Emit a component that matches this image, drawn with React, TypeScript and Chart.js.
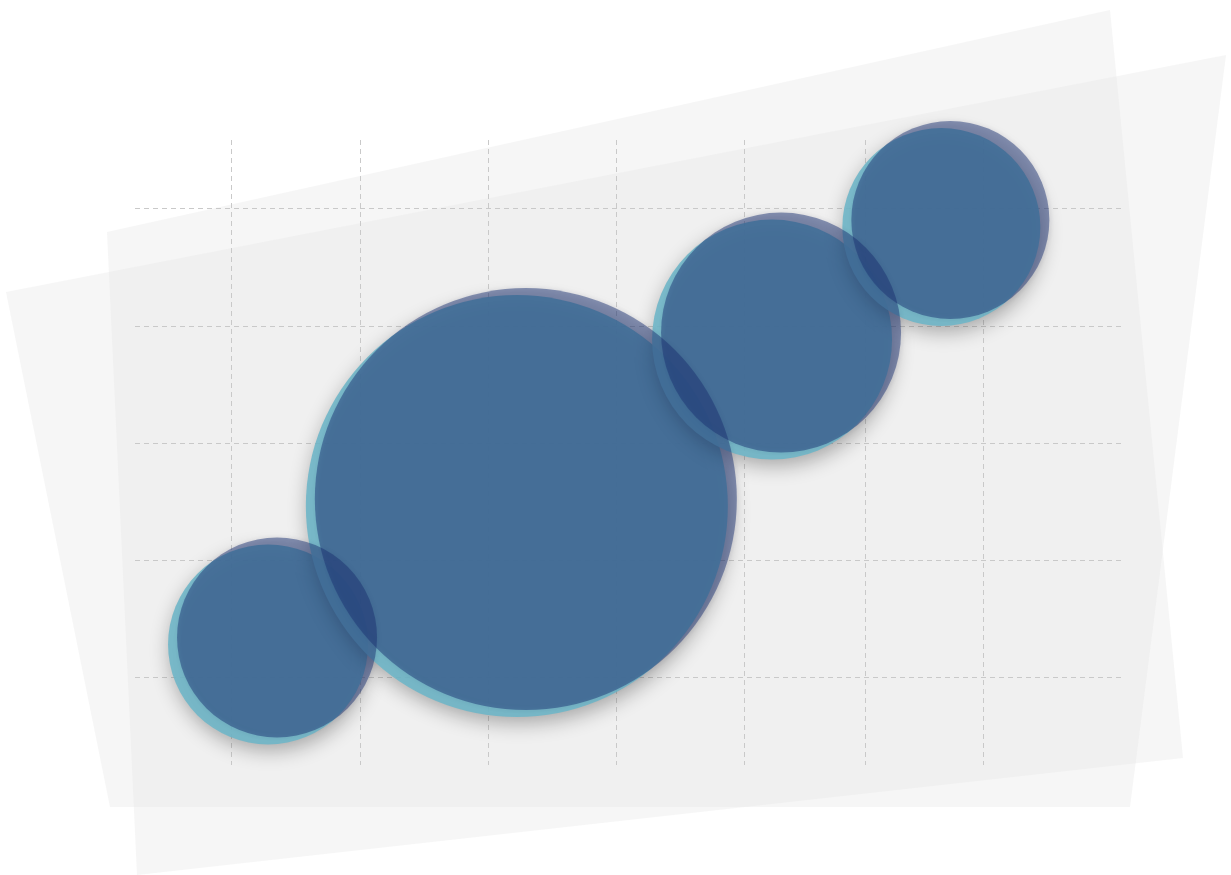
import React, { useEffect, useRef } from "react";
import { Chart, registerables } from "chart.js";

Chart.register(...registerables);

// Data
const bubbleX = [1.32, 3.26, 5.25, 6.57];
const bubbleY = [1.32, 2.5, 3.92, 4.88];
const bubbleR = [100, 211, 120, 99];
const gridXTicks = [1, 2, 3, 4, 5, 5.94, 6.86];
const gridYTicks = [1, 2, 3, 4, 5];

const W = 1231;
const H = 875;

const sheetsPlugin = {
  id: "sheets",
  beforeDraw(chart: any) {
    const ctx = chart.ctx;
    const quads = [
      [[107, 232], [1110, 10], [1183, 758], [137, 875]],
      [[6, 292], [1226, 55], [1130, 807], [110, 807]],
    ];
    ctx.save();
    ctx.fillStyle = "#ffffff";
    ctx.fillRect(0, 0, W, H);
    for (const q of quads) {
      ctx.beginPath();
      ctx.moveTo(q[0][0], q[0][1]);
      for (let i = 1; i < q.length; i++) ctx.lineTo(q[i][0], q[i][1]);
      ctx.closePath();
      ctx.fillStyle = "rgba(228,228,228,0.34)";
      ctx.fill();
    }
    ctx.restore();
  },
};

const layerPlugin = {
  id: "layers",
  beforeDatasetDraw(chart: any, args: any) {
    const ctx = chart.ctx;
    ctx.save();
    if (args.index === 1) {
      ctx.translate(-5, 4);
      ctx.shadowColor = "rgba(0,0,0,0.35)";
      ctx.shadowBlur = 20;
      ctx.shadowOffsetX = 2;
      ctx.shadowOffsetY = 6;
    } else {
      ctx.translate(4, -3);
      ctx.shadowColor = "rgba(30,30,80,0.18)";
      ctx.shadowBlur = 4;
      ctx.shadowOffsetX = 1;
      ctx.shadowOffsetY = 0;
    }
  },
  afterDatasetDraw(chart: any) {
    chart.ctx.restore();
  },
};

export default function App() {
  const ref = useRef<HTMLCanvasElement | null>(null);
  useEffect(() => {
    if (!ref.current) return;
    const pts = bubbleX.map((x, i) => ({ x, y: bubbleY[i], r: bubbleR[i] }));
    const chart = new Chart(ref.current, {
      type: "bubble",
      data: {
        datasets: [
          {
            label: "top",
            data: pts,
            backgroundColor: "rgba(26,48,112,0.48)",
            borderWidth: 0,
            clip: false,
          },
          {
            label: "base",
            data: pts,
            backgroundColor: "rgba(111,182,200,0.9)",
            borderWidth: 0,
            clip: false,
          },
        ],
      },
      options: {
        responsive: false,
        animation: false,
        events: [],
        layout: { autoPadding: false, padding: { left: 135, right: W - 1125, top: 140, bottom: H - 765 } },
        plugins: { legend: { display: false }, tooltip: { enabled: false }, title: { display: false } },
        scales: {
          x: {
            type: "linear",
            min: 0.2437,
            max: 7.963,
            afterBuildTicks: (s: any) => {
              s.ticks = gridXTicks.map((v) => ({ value: v }));
            },
            ticks: { display: false },
            border: { display: false, dash: [5, 4] },
            grid: { color: "#c9c9c9", lineWidth: 1, drawTicks: false },
          },
          y: {
            type: "linear",
            min: 0.258,
            max: 5.588,
            afterBuildTicks: (s: any) => {
              s.ticks = gridYTicks.map((v) => ({ value: v }));
            },
            ticks: { display: false },
            border: { display: false, dash: [5, 4] },
            grid: { color: "#c9c9c9", lineWidth: 1, drawTicks: false },
          },
        },
      } as any,
      plugins: [sheetsPlugin, layerPlugin],
    });
    return () => chart.destroy();
  }, []);
  return (
    <div style={{ position: "fixed", left: 0, top: 0, width: W, height: H }}>
      <canvas ref={ref} width={W} height={H} style={{ width: W, height: H, display: "block" }} />
    </div>
  );
}
